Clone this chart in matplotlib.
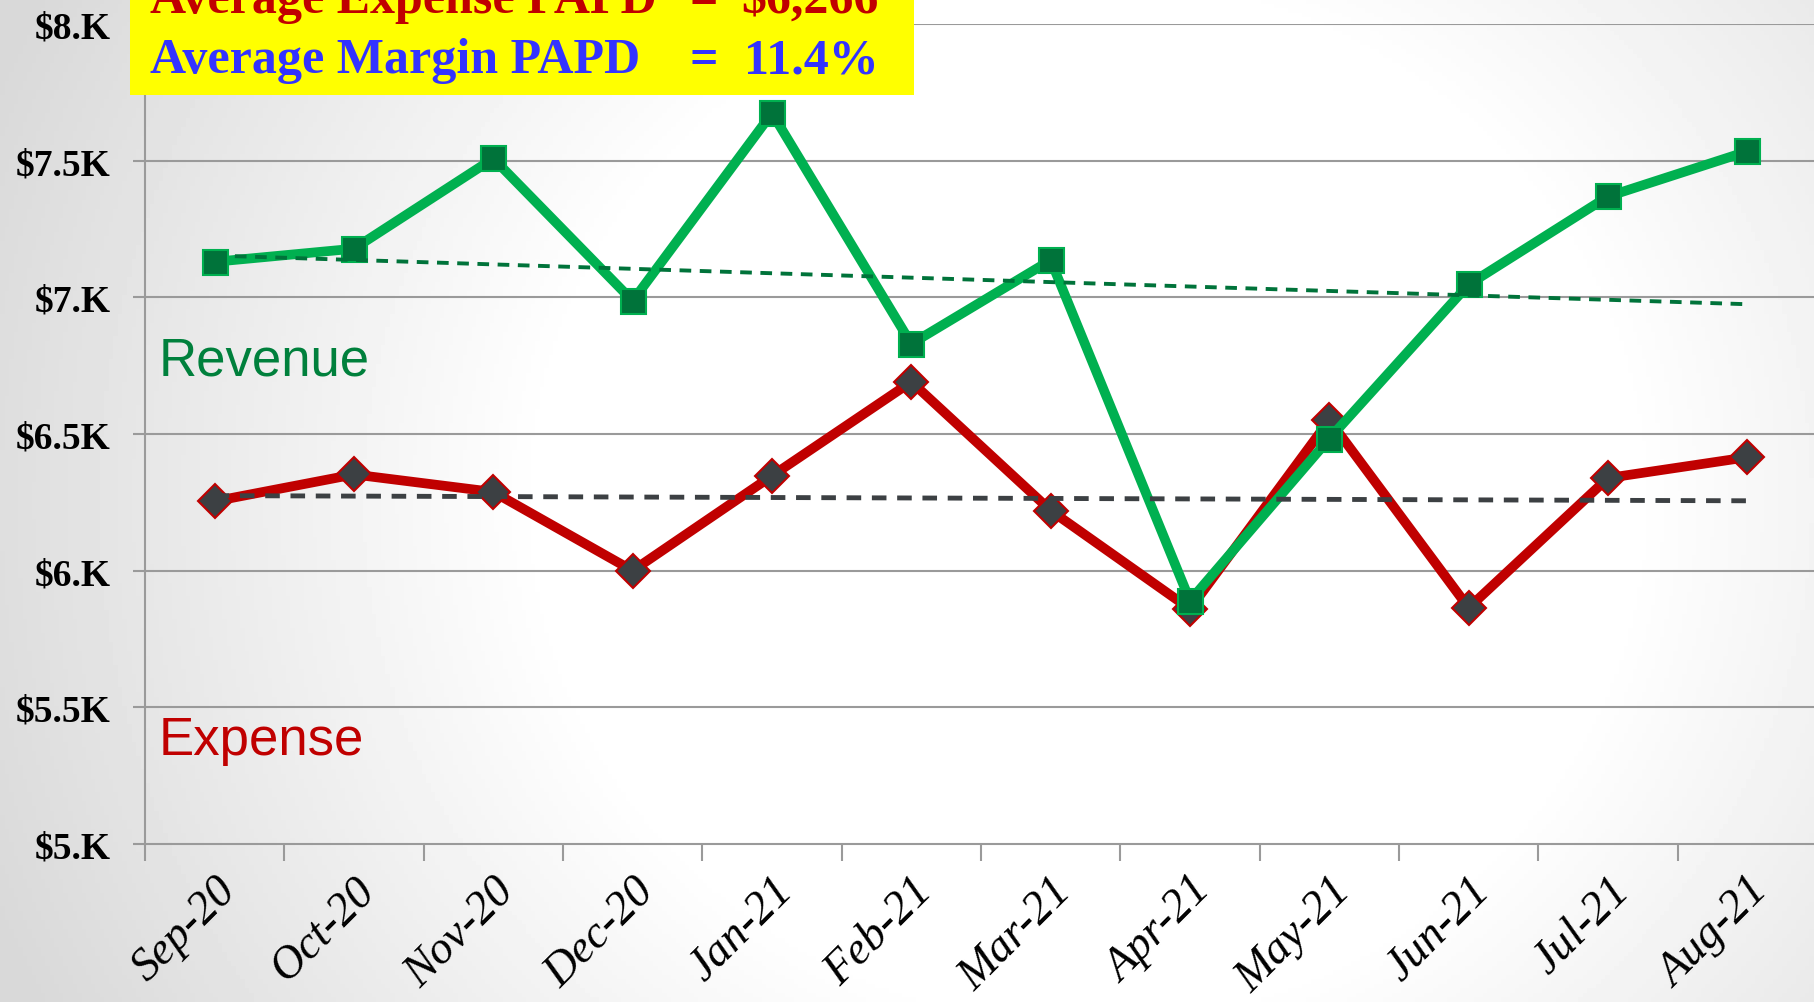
import numpy as np
import matplotlib.pyplot as plt
from matplotlib.patches import Rectangle

months = ["Sep-20", "Oct-20", "Nov-20", "Dec-20", "Jan-21", "Feb-21",
          "Mar-21", "Apr-21", "May-21", "Jun-21", "Jul-21", "Aug-21"]
revenue = [7130, 7178, 7508, 6987, 7674, 6830, 7136, 5890, 6483, 7047, 7369, 7534]
expense = [6254, 6352, 6288, 6000, 6347, 6691, 6220, 5860, 6551, 5864, 6339, 6415]
yticks = [5000, 5500, 6000, 6500, 7000, 7500, 8000]
ytick_labels = ["$5.K", "$5.5K", "$6.K", "$6.5K", "$7.K", "$7.5K", "$8.K"]
avg_expense_txt = "$6,266"
avg_margin_txt = "11.4%"

W, H = 1814, 1003
fig = plt.figure(figsize=(W / 100, H / 100), dpi=100)

# background gradient (grey edges, white middle)
bg = fig.add_axes([0, 0, 1, 1])
gx, gy = np.meshgrid(np.linspace(0, 1, 400), np.linspace(0, 1, 220))
d = np.sqrt((gx - 0.6) ** 2 + ((gy - 0.5) / 1.7) ** 2)
shade = 1.0 - 0.15 * np.clip((d - 0.3) / 0.35, 0, 1)
bg.imshow(shade, cmap="gray", vmin=0, vmax=1, aspect="auto",
          extent=[0, 1, 0, 1], origin="upper")
bg.axis("off")

ax = fig.add_axes([145 / W, 158 / H, 1672 / W, 820 / H])
ax.patch.set_alpha(0)
x = np.arange(len(months))

grey = "#9a9a9a"
for v in yticks[1:]:
    ax.axhline(v, color=grey, lw=1.5, zorder=1)

ax.plot(x, expense, color="#c00000", lw=7, marker="D", ms=17,
        mfc="#3c4043", mec="#c00000", mew=1.5, zorder=3)
ax.plot(x, revenue, color="#00b050", lw=7, marker="s", ms=18,
        mfc="#00733a", mec="#00b050", mew=1.5, zorder=4)

# linear trend lines
pr = np.polyfit(x, revenue, 1)
pe = np.polyfit(x, expense, 1)
ax.plot(x[[0, -1]], np.polyval(pr, x[[0, -1]]), color="#00733a", lw=2.8,
        ls=(0, (3, 2.2)), zorder=5)
ax.plot(x[[0, -1]], np.polyval(pe, x[[0, -1]]), color="#3c4043", lw=3.5,
        ls=(0, (3, 2.2)), zorder=5)

ax.set_xlim(-0.5, 11.5)
ax.set_ylim(5000, 8000)
ax.set_yticks(yticks)
ax.set_yticklabels(ytick_labels, family="Liberation Serif", weight="bold",
                   fontsize=27)
ax.set_xticks(x)
ax.set_xticklabels(months, family="Liberation Serif", style="italic",
                   fontsize=33, rotation=45, ha="right", rotation_mode="anchor")
ax.set_xticks(np.arange(-0.5, 11.5, 1), minor=True)
ax.tick_params(axis="x", which="major", length=0, pad=18)
ax.tick_params(axis="x", which="minor", length=12, color=grey, width=1.5,
               direction="out")
ax.tick_params(axis="y", length=9, color=grey, width=1.5, pad=16)
for s in ["top", "right"]:
    ax.spines[s].set_visible(False)
for s in ["left", "bottom"]:
    ax.spines[s].set_color(grey)
    ax.spines[s].set_linewidth(1.5)

ax.text(-0.4, 6770, "Revenue", color="#00803c", fontsize=38,
        family="Liberation Sans", va="center")
ax.text(-0.4, 5380, "Expense", color="#c00000", fontsize=38,
        family="Liberation Sans", va="center")

# yellow summary box
fig.add_artist(Rectangle((130 / W, 1 - 96 / H), 784 / W, 96 / H + 0.01,
                         transform=fig.transFigure, facecolor="#ffff00",
                         edgecolor="none", zorder=10))
rows = [("Average Expense PAPD", avg_expense_txt, "#c00000", 13),
        ("Average Margin PAPD", avg_margin_txt, "#3333ff", 73)]
for label, val, col, base in rows:
    yy = 1 - base / H
    kw = dict(color=col, fontsize=36, family="Liberation Serif", weight="bold",
              va="baseline", zorder=11)
    fig.text(150 / W, yy, label, ha="left", **kw)
    fig.text(704 / W, yy, "=", ha="center", **kw)
    fig.text(879 / W, yy, val, ha="right", **kw)

fig.savefig("out.png", dpi=100)
